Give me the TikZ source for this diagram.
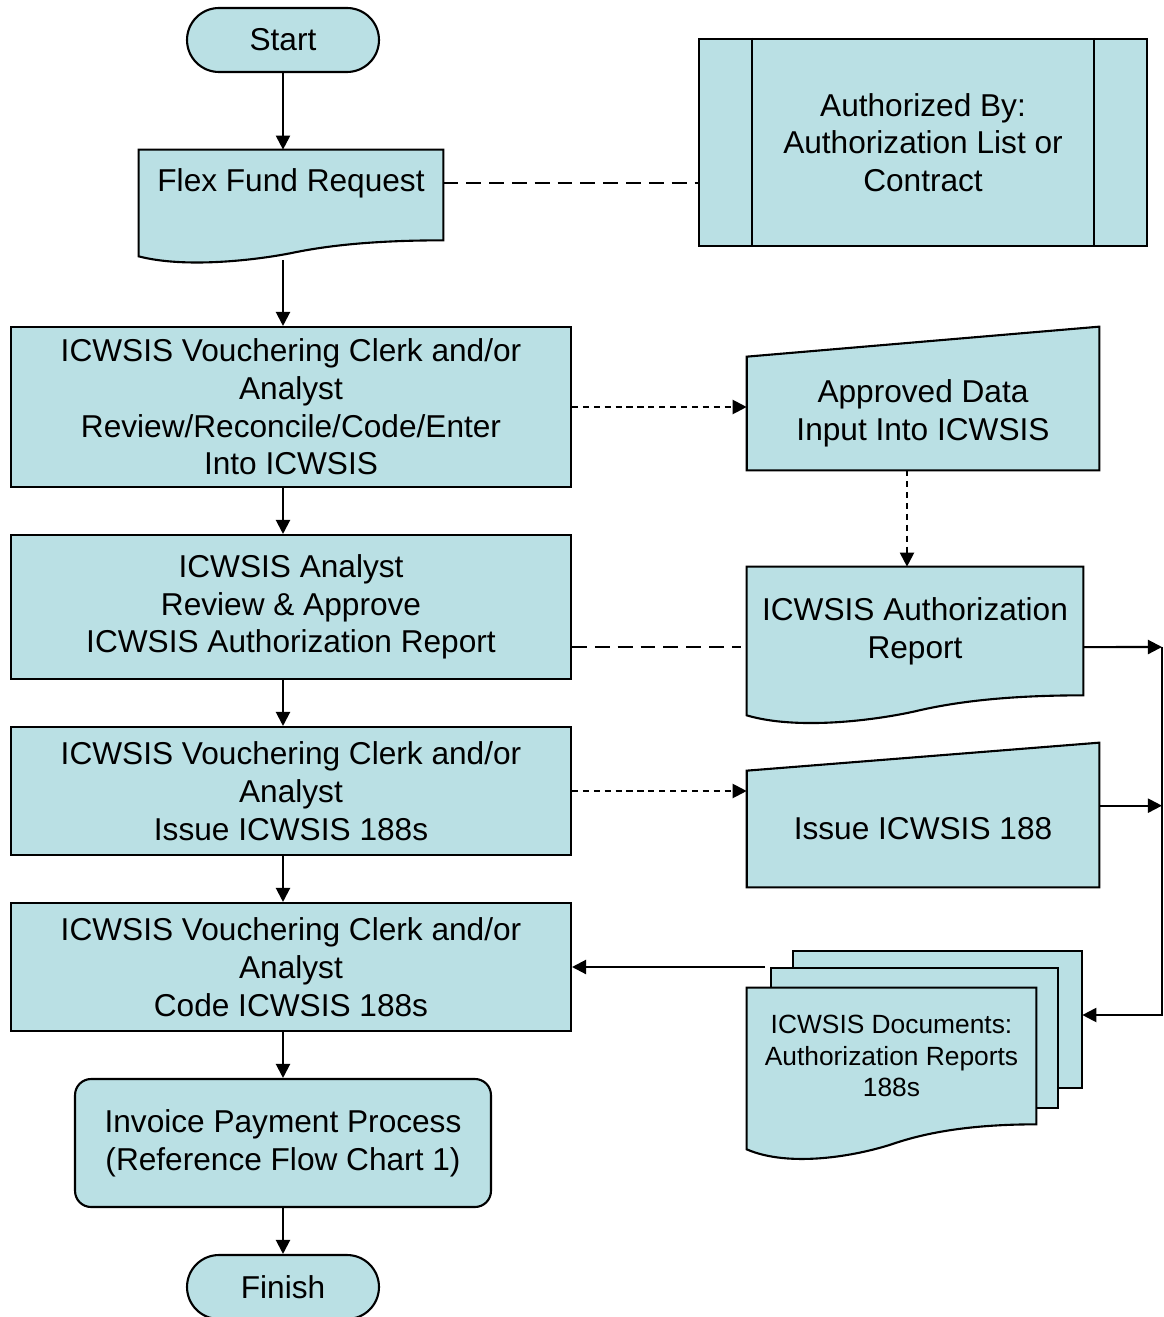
\documentclass[tikz,border=0pt]{standalone}
\usepackage{fontspec}
\setmainfont{Liberation Sans}
\usepackage{xcolor}
\usetikzlibrary{arrows.meta,calc,shapes.misc,backgrounds}
\definecolor{flowfill}{RGB}{186,224,228}
\tikzset{
	flow/.style={draw=black, line width=1.2pt, fill=flowfill},
	txt/.style={align=center, font=\fontsize{18}{21.5}\selectfont},
	procbox/.style={flow, txt, rectangle, inner sep=0pt},
	terminal/.style={flow, txt, rounded rectangle, minimum width=3.84cm, minimum height=1.28cm, inner sep=0pt},
	body/.style={txt, rectangle, draw=none, inner sep=0pt},
	arr/.style={line width=1.2pt, -{Triangle[length=8pt, width=8pt]}},
	longdash/.style={line width=1.2pt, dash pattern=on 8.5pt off 4.5pt},
	shortdash/.style={arr, dash pattern=on 3.5pt off 2.7pt}
}
% document outline below a body node: name, wave depth
\newcommand\docshape[2]{%
	\draw[flow] (#1.south east) -- (#1.north east) -- (#1.north west) -- ($(#1.south west)+(0,#2)$)
		.. controls ($(#1.south east)!0.85!(#1.south west)+(0,1.75*#2)$) and ($(#1.south east)!0.62!(#1.south west)+(0,1.25*#2)$) .. ($(#1.south)+(0,0.8*#2)$)
		.. controls ($(#1.south east)!0.4!(#1.south west)+(0,0.4*#2)$) and ($(#1.south east)!0.25!(#1.south west)$) .. (#1.south east) -- cycle;}
% manual input outline: name, rise of the right corner
\newcommand\manualshape[2]{%
	\draw[flow] (#1.south west) -- (#1.north west) -- ($(#1.north east)+(0,-#2)$) -- (#1.south east) -- cycle;}

\begin{document}
\begin{tikzpicture}[x=0.02cm, y=-0.02cm]
	\useasboundingbox (0,0) rectangle (1163,1317);

	% main column
	\node[terminal] (start) at (283,40) {Start};
	\node[body, minimum width=6.08cm, minimum height=1.8cm] (flex) at (291,195) {};
	\node[txt] (flexlbl) at (291,183) {Flex Fund Request};
	\node[procbox, minimum width=11.2cm, minimum height=3.2cm] (vouch) at (291,407)
		{ICWSIS Vouchering Clerk and/or\\Analyst\\Review/Reconcile/Code/Enter\\Into ICWSIS};
	\node[procbox, minimum width=11.2cm, minimum height=2.88cm] (review) at (291,607)
		{ICWSIS Analyst\\Review \& Approve\\ICWSIS Authorization Report};
	\node[procbox, minimum width=11.2cm, minimum height=2.56cm] (issueproc) at (291,791)
		{ICWSIS Vouchering Clerk and/or\\Analyst\\Issue ICWSIS 188s};
	\node[procbox, minimum width=11.2cm, minimum height=2.56cm] (codeproc) at (291,967)
		{ICWSIS Vouchering Clerk and/or\\Analyst\\Code ICWSIS 188s};
	\node[procbox, rounded corners=0.32cm, minimum width=8.32cm, minimum height=2.56cm] (invoice) at (283,1143)
		{Invoice Payment Process\\(Reference Flow Chart 1)};
	\node[terminal] (finish) at (283,1287) {Finish};

	% right column
	\node[procbox, minimum width=8.96cm, minimum height=4.14cm] (authlist) at (923,142.5)
		{Authorized By:\\Authorization List or\\Contract};
	\draw[line width=1.2pt] ($(authlist.north west)+(54,0)$) -- ($(authlist.south west)+(54,0)$);
	\draw[line width=1.2pt] ($(authlist.north east)+(-54,0)$) -- ($(authlist.south east)+(-54,0)$);
	\node[body, minimum width=7.04cm, minimum height=2.26cm] (approved) at (923,413.5) {Approved Data\\Input Into ICWSIS};
	\node[body, minimum width=6.72cm, minimum height=2.56cm] (authrep) at (915,631) {ICWSIS Authorization\\Report};
	\node[body, minimum width=7.04cm, minimum height=2.32cm] (issuedoc) at (923,829) {Issue ICWSIS 188};
	\node[body, minimum width=5.78cm, minimum height=2.74cm] (docsback) at (937.5,1019.5) {};
	\node[body, minimum width=5.74cm, minimum height=2.8cm] (docsmid) at (914.5,1038) {};
	\node[body, minimum width=5.78cm, minimum height=2.72cm, font=\fontsize{15}{18}\selectfont] (docs) at (891.5,1056)
		{ICWSIS Documents:\\Authorization Reports\\188s};

	\begin{scope}[on background layer]
		\docshape{flex}{16}
		\manualshape{approved}{30}
		\docshape{authrep}{20}
		\manualshape{issuedoc}{28}
		\draw[flow] (docsback.south west) rectangle (docsback.north east);
		\draw[flow] (docsmid.south west) rectangle (docsmid.north east);
		\docshape{docs}{25}
	\end{scope}

	\coordinate (repOut) at ($(authrep.north east)!0.625!(authrep.south east)$);
	\coordinate (issueOut) at ($(issuedoc.north east)!0.3!(issuedoc.south east)$);
	\coordinate (busTop) at (1162,647);
	\coordinate (busBot) at (1162,1015);
	\coordinate (stackL) at (765,967);

	% connectors
	\draw[arr] (start.south) to (start.south |- flex.north);
	\draw[arr] ($(start.south |- flex.south)+(0,20)$) to (start.south |- vouch.north);
	\foreach \a/\b in {vouch/review, review/issueproc, issueproc/codeproc, codeproc/invoice, invoice/finish}
		\draw[arr] (start.south |- \a.south) to (start.south |- \b.north);

	\draw[longdash] (flex.north east |- flexlbl) to (authlist.west |- flexlbl);
	\draw[shortdash] (vouch.east) to (vouch.east -| approved.west);
	\draw[shortdash] ($(approved.south)+(-16,0)$) to ($(authrep.north)+(-8,0)$);
	\draw[longdash] (review.east |- repOut) to ($(authrep.west |- repOut)+(-6,0)$);
	\draw[shortdash] (issueproc.east) to (issueproc.east -| issuedoc.west);
	\draw[arr] (repOut) to (busTop);
	\draw[arr] (issueOut) to (issueOut -| busTop);
	\draw[arr] (busTop) -- (busBot) -- (docsback.east |- busBot);
	\draw[arr] (stackL) to (codeproc.east |- stackL);
\end{tikzpicture}
\end{document}
